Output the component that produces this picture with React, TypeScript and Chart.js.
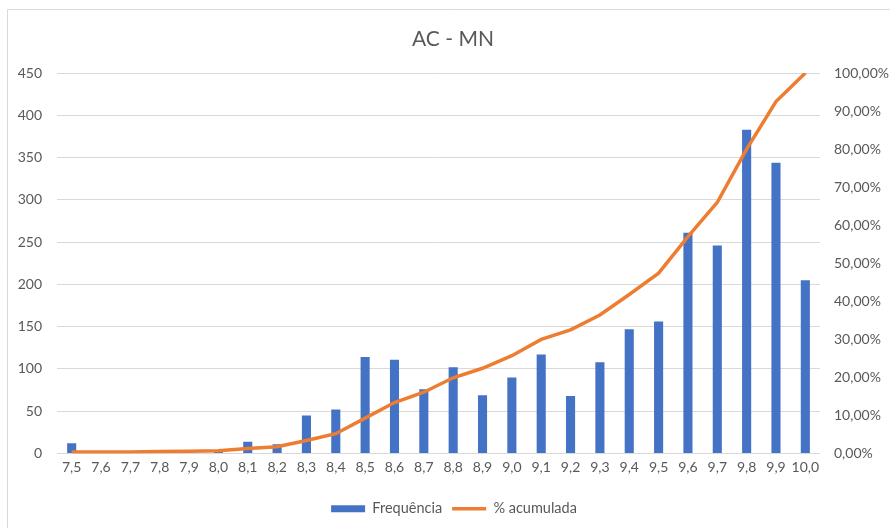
import React, { useEffect, useRef } from "react";
import { Chart, registerables } from "chart.js";

Chart.register(...registerables);

const TITLE = "AC - MN";
const categories = [
  "7,5", "7,6", "7,7", "7,8", "7,9", "8,0", "8,1", "8,2", "8,3", "8,4",
  "8,5", "8,6", "8,7", "8,8", "8,9", "9,0", "9,1", "9,2", "9,3", "9,4",
  "9,5", "9,6", "9,7", "9,8", "9,9", "10,0",
];
const frequencia = [
  12, 0, 0, 1, 3, 3, 14, 11, 45, 52,
  114, 111, 76, 102, 69, 90, 117, 68, 108, 147,
  156, 261, 246, 383, 344, 205,
];
const acumulada = [
  0.4, 0.4, 0.4, 0.5, 0.6, 0.7, 1.3, 1.8, 3.4, 5.2,
  9.3, 13.4, 16.1, 19.9, 22.4, 25.7, 30.0, 32.5, 36.4, 41.8,
  47.4, 57.0, 66.0, 80.0, 92.5, 100.0,
];
const leftAxis = { min: 0, max: 450, step: 50 };
const rightAxis = { min: 0, max: 100, step: 10 };

const FONT = "Lato, 'Open Sans', sans-serif";
const TEXT = "#595959";
const GRID = "#d9d9d9";

const framePlugin = {
  id: "excelFrame",
  beforeDraw(chart: any) {
    const ctx = chart.ctx;
    ctx.save();
    ctx.fillStyle = "#ffffff";
    ctx.fillRect(0, 0, chart.width, chart.height);
    ctx.strokeStyle = GRID;
    ctx.lineWidth = 1;
    ctx.beginPath();
    ctx.moveTo(7.5, chart.height);
    ctx.lineTo(7.5, 9.5);
    ctx.lineTo(chart.width, 9.5);
    ctx.stroke();
    ctx.fillStyle = TEXT;
    ctx.font = `21px ${FONT}`;
    ctx.textAlign = "center";
    ctx.textBaseline = "middle";
    ctx.fillText(TITLE, 453, 39);
    ctx.restore();
  },
  afterLayout(chart: any) {
    const lg = chart.legend;
    if (lg) {
      lg.left += 9;
      lg.right += 9;
    }
  },
};

export default function App() {
  const ref = useRef<HTMLCanvasElement | null>(null);
  useEffect(() => {
    if (!ref.current) return;
    const chart = new Chart(ref.current, {
      type: "bar",
      data: {
        labels: categories,
        datasets: [
          {
            type: "line",
            label: "% acumulada",
            data: acumulada,
            yAxisID: "y1",
            borderColor: "#ED7D31",
            backgroundColor: "#ED7D31",
            borderWidth: 3.5,
            pointRadius: 0,
            pointStyle: "line",
            tension: 0,
            order: 0,
          } as any,
          {
            type: "bar",
            label: "Frequência",
            data: frequencia,
            yAxisID: "y",
            backgroundColor: "#4472C4",
            borderWidth: 0,
            categoryPercentage: 1,
            barPercentage: 0.31,
            pointStyle: "rect",
            order: 1,
          } as any,
        ],
      },
      options: {
        responsive: false,
        animation: false,
        devicePixelRatio: 1,
        layout: { padding: { left: 0, right: 0, top: 73, bottom: 2 } },
        plugins: {
          title: { display: false },
          legend: {
            position: "bottom",
            reverse: true,
            labels: {
              usePointStyle: true,
              pointStyleWidth: 34,
              boxHeight: 7,
              color: TEXT,
              font: { family: FONT, size: 14.5 },
              padding: 10,
            },
          },
          tooltip: { enabled: false },
        },
        scales: {
          x: {
            grid: { display: false, drawTicks: false },
            border: { display: false },
            ticks: {
              color: TEXT,
              font: { family: FONT, size: 14 },
              padding: 6,
              maxRotation: 0,
              autoSkip: false,
            },
            afterFit(scale: any) {
              scale.height = 38;
            },
          },
          y: {
            position: "left",
            min: leftAxis.min,
            max: leftAxis.max,
            grid: { color: GRID, drawTicks: false, lineWidth: 1 },
            border: { display: false },
            ticks: {
              stepSize: leftAxis.step,
              color: TEXT,
              font: { family: FONT, size: 14 },
              padding: 15,
            },
            afterFit(scale: any) {
              scale.width = 57;
            },
          },
          y1: {
            position: "right",
            min: rightAxis.min,
            max: rightAxis.max,
            grid: { drawOnChartArea: false, drawTicks: false },
            border: { display: false },
            ticks: {
              stepSize: rightAxis.step,
              color: TEXT,
              font: { family: FONT, size: 14 },
              padding: 14,
              callback: (v: any) => Number(v).toFixed(2).replace(".", ",") + "%",
            },
            afterFit(scale: any) {
              scale.width = 70;
            },
          },
        },
      },
      plugins: [framePlugin],
    });
    return () => chart.destroy();
  }, []);
  return (
    <div style={{ position: "fixed", left: 0, top: 0, width: 890, height: 528 }}>
      <canvas ref={ref} width={890} height={528} />
    </div>
  );
}
